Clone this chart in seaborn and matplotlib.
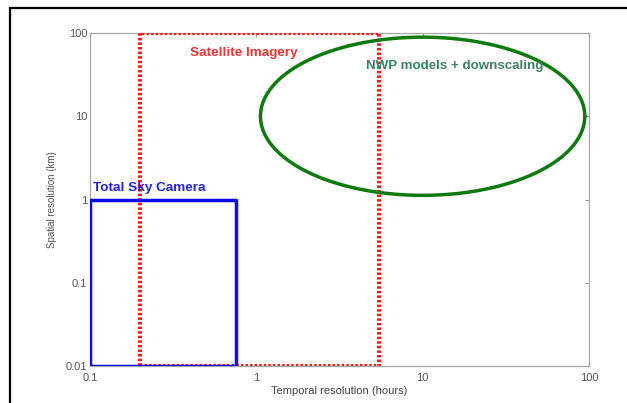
import numpy as np
import pandas as pd
import matplotlib
matplotlib.use("Agg")
import matplotlib.pyplot as plt
import seaborn as sns

# Resolution ranges of each forecasting technique
# (temporal in hours, spatial in km)
sky_camera_hours = [0.1, 0.75]
sky_camera_km = [0.01, 1.0]
satellite_hours = [0.2, 5.5]
satellite_km = [0.01, 100.0]
nwp_center = [10.0, 10.0]          # hours, km
nwp_spread_decades = [0.975, 0.95]  # half-width in decades along x and y

x_ticks = [0.1, 1, 10, 100]
x_tick_labels = ["0.1", "1", "10", "100"]
y_ticks = [0.01, 0.1, 1, 10, 100]
y_tick_labels = ["0.01", "0.1", "1", "10", "100"]


def box_path(xr, yr):
    xs = [xr[0], xr[1], xr[1], xr[0], xr[0]]
    ys = [yr[0], yr[0], yr[1], yr[1], yr[0]]
    return pd.DataFrame({"x": xs, "y": ys, "order": range(5)})


def log_ellipse(center, spread, n=400):
    t = np.linspace(0, 2 * np.pi, n)
    xs = 10 ** (np.log10(center[0]) + spread[0] * np.cos(t))
    ys = 10 ** (np.log10(center[1]) + spread[1] * np.sin(t))
    return pd.DataFrame({"x": xs, "y": ys, "order": range(n)})


sns.set_style("white")
plt.rcParams["font.family"] = ["Liberation Sans", "DejaVu Sans"]

fig = plt.figure(figsize=(6.27, 4.03), dpi=100)
ax = fig.add_axes([0.1435, 0.0918, 0.7958, 0.8263])

sns.lineplot(data=box_path(satellite_hours, satellite_km), x="x", y="y",
             sort=False, estimator=None, ax=ax, color="#ff1a1a",
             linewidth=3.0, linestyle=(0, (0.6, 0.5)), zorder=3)
sns.lineplot(data=box_path(sky_camera_hours, sky_camera_km), x="x", y="y",
             sort=False, estimator=None, ax=ax, color="#0a0aee",
             linewidth=2.5, zorder=4)
sns.lineplot(data=log_ellipse(nwp_center, nwp_spread_decades), x="x", y="y",
             sort=False, estimator=None, ax=ax, color="#0c7a0c",
             linewidth=2.5, zorder=5)

ax.set_xscale("log")
ax.set_yscale("log")
ax.set_xlim(0.1, 100)
ax.set_ylim(0.01, 100)
ax.set_xticks(x_ticks)
ax.set_xticklabels(x_tick_labels)
ax.set_yticks(y_ticks)
ax.set_yticklabels(y_tick_labels)
ax.minorticks_off()
ax.tick_params(axis="both", which="major", direction="in", length=3,
               width=0.7, color="#999999", labelsize=8, labelcolor="#555555",
               top=True, right=True)
ax.tick_params(axis="x", pad=5)
ax.tick_params(axis="y", pad=2)
for s in ax.spines.values():
    s.set_color("#a8a8a8")
    s.set_linewidth(0.9)

ax.set_xlabel("Temporal resolution (hours)", fontsize=8, color="#444444",
              labelpad=2)
ax.set_ylabel("Spatial resolution (km)", fontsize=7, color="#555555",
              labelpad=6)

ax.text(0.105, 1.15, "Total Sky Camera", color="#2323d6", fontsize=9.7,
        fontweight="bold", ha="left", va="bottom", zorder=6)
ax.text(0.40, 57, "Satellite Imagery", color="#e83838", fontsize=9.7,
        fontweight="bold", ha="left", va="center", zorder=6)
ax.text(4.55, 40, "NWP models + downscaling", color="#3f7f66", fontsize=9.6,
        fontweight="bold", ha="left", va="center", zorder=6)

# Black frame along the top and left of the figure
frame = plt.Rectangle((10 / 627, -0.2), 1.2, 1 - 8 / 403 + 0.2,
                      transform=fig.transFigure, fill=False,
                      edgecolor="black", linewidth=1.6, zorder=0)
fig.patches.append(frame)

fig.savefig("out.png", dpi=100)
